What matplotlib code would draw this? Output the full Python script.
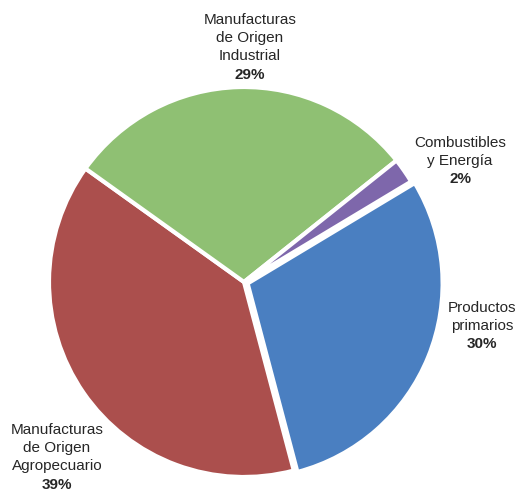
import matplotlib
matplotlib.use('Agg')
import matplotlib.pyplot as plt

# Datos del gráfico (orden horario desde Productos primarios)
categorias = ['Productos\nprimarios', 'Manufacturas\nde Origen\nAgropecuario',
              'Manufacturas\nde Origen\nIndustrial', 'Combustibles\ny Energía']
valores = [29.5, 39.0, 29.4, 2.1]
etiquetas_pct = ['30%', '39%', '29%', '2%']
colores = ['#4A7FC1', '#AB4F4D', '#8FC073', '#7E67AB']
separar = [0.02, 0, 0, 0]

plt.rcParams['font.family'] = ['Liberation Sans', 'DejaVu Sans']

fig = plt.figure(figsize=(5.19, 4.91), dpi=100)
ax = fig.add_axes([49 / 519, 14 / 491, 390 / 519, 390 / 491])

ax.pie(valores, colors=colores, startangle=31, counterclock=False,
       explode=separar, radius=1,
       wedgeprops={'edgecolor': 'white', 'linewidth': 3})
ax.set_xlim(-1, 1)
ax.set_ylim(-1, 1)
ax.set_aspect('equal')
ax.axis('off')

# Posición de las etiquetas en píxeles (x centro, y de la primera línea)
pos_etiquetas = [(482, 308), (57, 430), (250, 20), (460, 143)]
salto = 18.2

for nombre, pct, (x, y) in zip(categorias, etiquetas_pct, pos_etiquetas):
    lineas = nombre.split('\n')
    for i, linea in enumerate(lineas):
        fig.text(x / 519, 1 - (y + i * salto) / 491, linea, ha='center', va='center',
                 fontsize=11, color='#262626')
    fig.text(x / 519, 1 - (y + len(lineas) * salto) / 491, pct, ha='center', va='center',
             fontsize=11, fontweight='bold', color='#262626')

fig.savefig('out.png', dpi=100)
